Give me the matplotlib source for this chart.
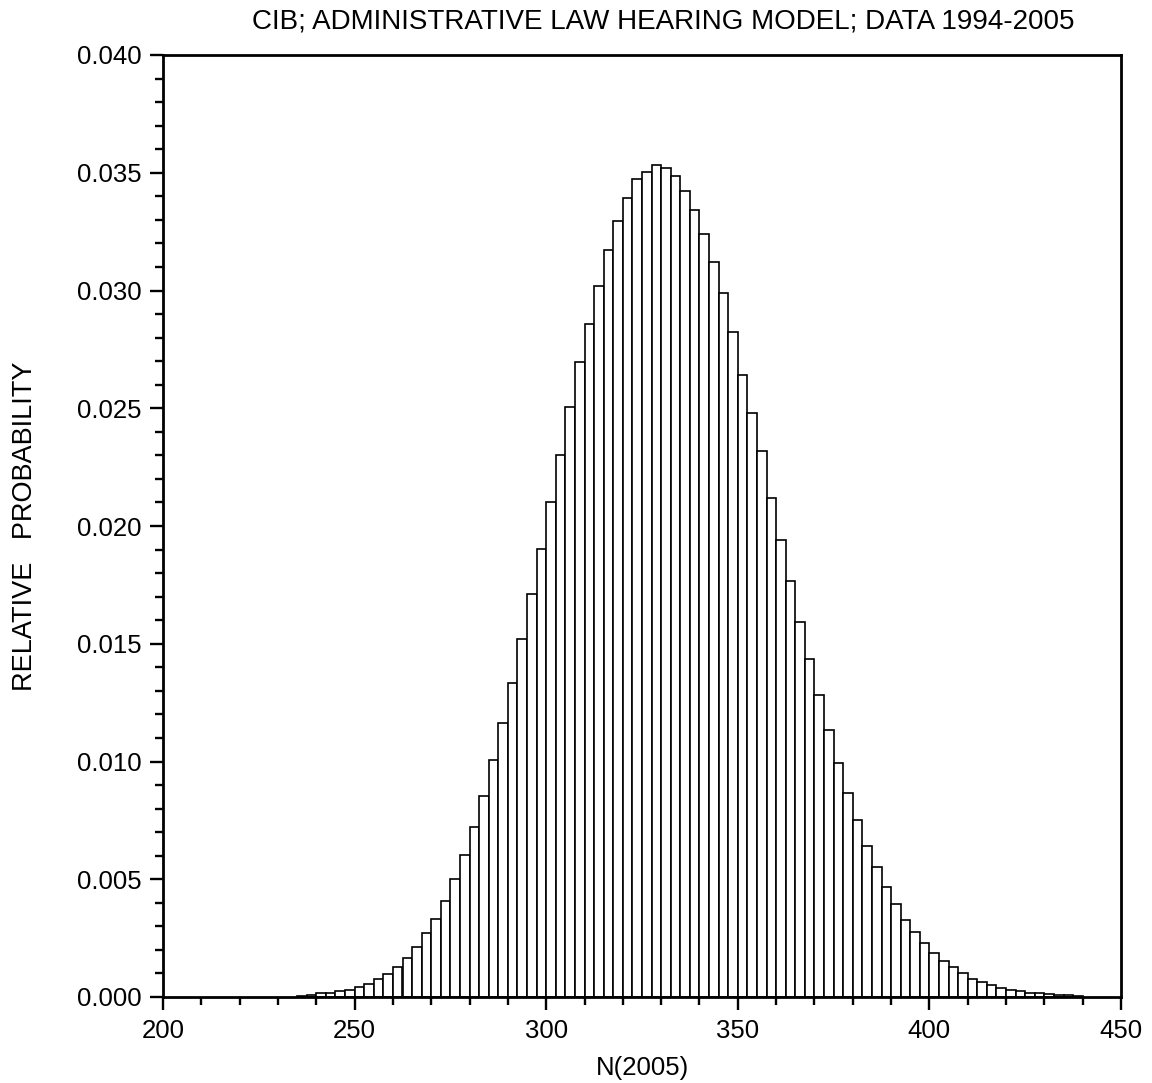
import numpy as np
import matplotlib
matplotlib.use("Agg")
import matplotlib.pyplot as plt
from matplotlib.ticker import MultipleLocator, FormatStrFormatter

plt.rcParams['font.family'] = ['Liberation Sans', 'DejaVu Sans']

title = "CIB; ADMINISTRATIVE LAW HEARING MODEL; DATA 1994-2005"
xlabel = "N(2005)"
ylabel = "RELATIVE   PROBABILITY"

bin_start = 235.0
bin_width = 2.5
probabilities = [
    0.00005, 0.00008, 0.00015, 0.00019, 0.00026, 0.00031, 0.00043, 0.00056,
    0.00076, 0.00098, 0.00128, 0.00166, 0.00214, 0.00270, 0.00333, 0.00409,
    0.00502, 0.00603, 0.00723, 0.00855, 0.01006, 0.01163, 0.01333, 0.01521,
    0.01712, 0.01904, 0.02103, 0.02300, 0.02505, 0.02696, 0.02858, 0.03019,
    0.03172, 0.03295, 0.03392, 0.03473, 0.03504, 0.03533, 0.03521, 0.03487,
    0.03422, 0.03342, 0.03240, 0.03120, 0.02990, 0.02825, 0.02641, 0.02478,
    0.02318, 0.02117, 0.01940, 0.01766, 0.01594, 0.01435, 0.01282, 0.01134,
    0.00992, 0.00867, 0.00750, 0.00641, 0.00551, 0.00467, 0.00395, 0.00327,
    0.00276, 0.00230, 0.00186, 0.00152, 0.00126, 0.00101, 0.00078, 0.00063,
    0.00050, 0.00040, 0.00031, 0.00024, 0.00019, 0.00016, 0.00012, 0.00010,
    0.00008, 0.00006,
]

x_ticks = [200, 250, 300, 350, 400, 450]
y_ticks = [0.000, 0.005, 0.010, 0.015, 0.020, 0.025, 0.030, 0.035, 0.040]

edges = bin_start + bin_width * np.arange(len(probabilities))

fig = plt.figure(figsize=(11.52, 10.83), dpi=100)
ax = fig.add_axes([163/1152, 1 - 997/1083, (1121-163)/1152, (997-55)/1083])

ax.bar(edges, probabilities, width=bin_width, align='edge',
       facecolor='white', edgecolor='black', linewidth=1.2, zorder=2)

ax.set_xlim(200, 450)
ax.set_ylim(0, 0.040)
ax.set_xticks(x_ticks)
ax.set_yticks(y_ticks)
ax.xaxis.set_minor_locator(MultipleLocator(10))
ax.yaxis.set_minor_locator(MultipleLocator(0.001))
ax.yaxis.set_major_formatter(FormatStrFormatter('%.3f'))

for s in ax.spines.values():
    s.set_linewidth(2.0)
    s.set_zorder(3)

ax.tick_params(axis='both', which='major', direction='out', length=9.5, width=1.7,
               labelsize=18.5, pad=6, colors='black')
ax.tick_params(axis='both', which='minor', direction='out', length=5.5, width=1.7)
ax.tick_params(top=False, right=False, which='both')

ax.set_xlabel(xlabel, fontsize=18.5, labelpad=10)
ax.set_ylabel(ylabel, fontsize=19.5, labelpad=28)

fig.text(663/1152, 1 - 21/1083, title, ha='center', va='center', fontsize=20)

fig.savefig("out.png", dpi=100, facecolor='white')
